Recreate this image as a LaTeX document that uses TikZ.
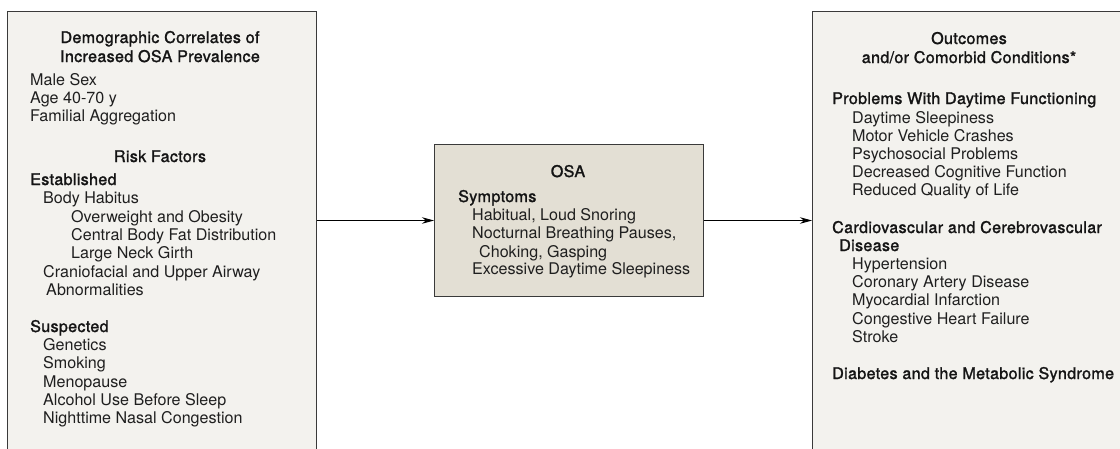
\documentclass[tikz,border=0pt]{standalone}
\usepackage{fontspec}
\setmainfont{TeX Gyre Heros}
\newfontfamily\mediumfont[FakeBold=1.5,LetterSpace=2]{TeX Gyre Heros}
\usetikzlibrary{arrows.meta}
\definecolor{panelfill}{HTML}{F3F2EE}
\definecolor{corefill}{HTML}{E3DFD4}
\definecolor{edge}{HTML}{3A3A3A}
\tikzset{
  panel/.style={draw=edge, line width=1pt, fill=panelfill, anchor=north west, inner sep=0pt},
  core/.style={draw=edge, line width=1pt, fill=corefill, anchor=north west, inner sep=0pt},
  item/.style={anchor=base west, inner sep=0pt, font=\fontsize{16.1}{18}\selectfont, text=black!88},
  head/.style={anchor=base west, inner sep=0pt, font=\fontsize{16.1}{18}\selectfont\mediumfont, text=black!92},
  title/.style={anchor=base, inner sep=0pt, font=\fontsize{16.1}{18}\selectfont\mediumfont, text=black!92},
  link/.style={draw=black, line width=0.9pt, -{Stealth[length=12pt,width=6.5pt]}}
}
\begin{document}
\begin{tikzpicture}[x=1pt, y=-1pt]
\clip (0,0) rectangle (1120,448);
\fill[white] (0,0) rectangle (1120,448);

% three boxes
\node[panel, minimum width=309pt, minimum height=470pt] (left) at (7,11) {};
\node[core, minimum width=269pt, minimum height=152pt] (osa) at (434,144) {};
\node[panel, minimum width=330pt, minimum height=470pt] (right) at (812,11) {};

% connectors
\draw[link] (osa.west -| left.east) -- (osa.west);
\draw[link] (osa.east) -- (osa.east -| right.west);

% left box: demographics and risk factors
\node[title] (demoA) at (160,43) {Demographic Correlates of};
\node[title] (demoB) at (160,62) {Increased OSA Prevalence};
\node[item] (sex) at (30,85) {Male Sex};
\node[item] (age) at (30,103) {Age 40-70 y};
\node[item] (fam) at (30,121) {Familial Aggregation};
\node[title] (risk) at (160,162) {Risk Factors};
\node[head] (est) at (30,185) {Established};
\node[item] (habitus) at (43,203) {Body Habitus};
\node[item] (obes) at (71,222) {Overweight and Obesity};
\node[item] (fat) at (71,240) {Central Body Fat Distribution};
\node[item] (neck) at (71,258) {Large Neck Girth};
\node[item] (cranio) at (43,277) {Craniofacial and Upper Airway};
\node[item] (abn) at (46,295) {Abnormalities};
\node[head] (susp) at (30,332) {Suspected};
\node[item] (gen) at (43,350) {Genetics};
\node[item] (smok) at (43,368) {Smoking};
\node[item] (meno) at (43,387) {Menopause};
\node[item] (alc) at (43,405) {Alcohol Use Before Sleep};
\node[item] (nasal) at (43,423) {Nighttime Nasal Congestion};

% middle box: OSA and symptoms
\node[title] (osaT) at (568,177) {OSA};
\node[head] (symp) at (458,202) {Symptoms};
\node[item] (snore) at (472,220) {Habitual, Loud Snoring};
\node[item] (pause) at (472,238) {Nocturnal Breathing Pauses,};
\node[item] (choke) at (479,257) {Choking, Gasping};
\node[item] (eds) at (472,274) {Excessive Daytime Sleepiness};

% right box: outcomes
\node[title] (outA) at (969,44) {Outcomes};
\node[title] (outB) at (969,63) {and/or Comorbid Conditions*};
\node[head] (day) at (832,104) {Problems With Daytime Functioning};
\node[item] (sleepy) at (852,123) {Daytime Sleepiness};
\node[item] (crash) at (852,141) {Motor Vehicle Crashes};
\node[item] (psy) at (852,159) {Psychosocial Problems};
\node[item] (cog) at (852,177) {Decreased Cognitive Function};
\node[item] (qol) at (852,195) {Reduced Quality of Life};
\node[head] (cvA) at (832,233) {Cardiovascular and Cerebrovascular};
\node[head] (cvB) at (839,251) {Disease};
\node[item] (htn) at (852,269) {Hypertension};
\node[item] (cad) at (852,287) {Coronary Artery Disease};
\node[item] (mi) at (852,305) {Myocardial Infarction};
\node[item] (chf) at (852,324) {Congestive Heart Failure};
\node[item] (stroke) at (852,342) {Stroke};
\node[head] (dm) at (832,379) {Diabetes and the Metabolic Syndrome};
\end{tikzpicture}
\end{document}
